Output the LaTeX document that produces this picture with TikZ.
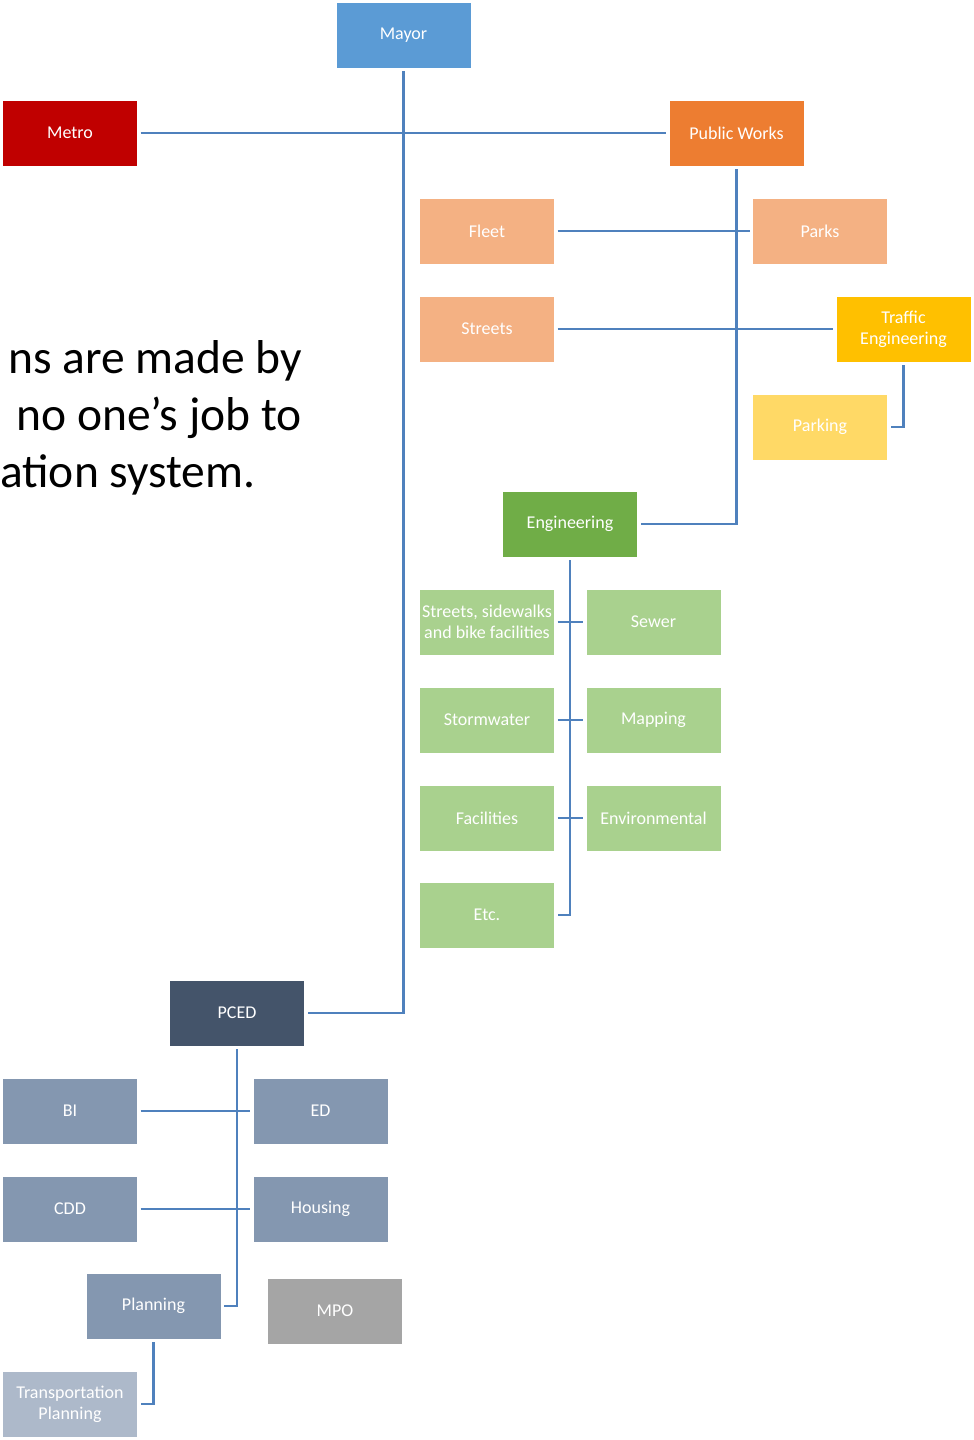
\documentclass[tikz,border=0pt]{standalone}
\usepackage{fontspec}
\setmainfont{Carlito}
\usetikzlibrary{positioning}

\definecolor{mayorblue}{HTML}{5B9BD5}
\definecolor{metrored}{HTML}{C00000}
\definecolor{worksorange}{HTML}{ED7D31}
\definecolor{worksbeige}{HTML}{F4B183}
\definecolor{trafficgold}{HTML}{FFC000}
\definecolor{parkingyellow}{HTML}{FFD966}
\definecolor{enggreen}{HTML}{70AD47}
\definecolor{unitgreen}{HTML}{A9D18E}
\definecolor{pcedslate}{HTML}{44546A}
\definecolor{unitslate}{HTML}{8497B0}
\definecolor{mpogray}{HTML}{A5A5A5}
\definecolor{transslate}{HTML}{ADB9CA}
\definecolor{linkblue}{HTML}{4F81BD}

\begin{document}
\begin{tikzpicture}[x=1pt,y=-1pt]
		\tikzstyle {unit box} = [minimum width=135, minimum height=66, inner sep=0, outer sep=3,
			align=center, text=white, draw=white, line width=0.8, font=\fontsize{18}{21}\selectfont]
		\tikzstyle {link} = [linkblue, line width=2.5]
		\tikzstyle {quote} = [inner sep=0, font=\fontsize{47.5}{57}\selectfont]

		\clip (0,0) rectangle (974,1440);

		% top level
		\node[unit box, fill=mayorblue] (mayor) at (403.5, 35) {Mayor};
		\node[unit box, fill=metrored] (metro) at (70, 133) {Metro};
		\node[unit box, fill=worksorange] (works) at (736.5, 133) {Public Works};

		% public works
		\node[unit box, fill=worksbeige] (fleet) at (487, 231) {Fleet};
		\node[unit box, fill=worksbeige] (parks) at (820, 231) {Parks};
		\node[unit box, fill=worksbeige] (streets) at (487, 329) {Streets};
		\node[unit box, fill=trafficgold] (traffic) at (903.5, 329) {Traffic\\Engineering};
		\node[unit box, fill=parkingyellow] (parking) at (820, 427) {Parking};

		% engineering
		\node[unit box, fill=enggreen] (eng) at (570, 524) {Engineering};
		\node[unit box, fill=unitgreen] (sidewalks) at (487, 622) {Streets, sidewalks\\and bike facilities};
		\node[unit box, fill=unitgreen] (sewer) at (653.5, 622) {Sewer};
		\node[unit box, fill=unitgreen] (storm) at (487, 720) {Stormwater};
		\node[unit box, fill=unitgreen] (mapping) at (653.5, 720) {Mapping};
		\node[unit box, fill=unitgreen] (facilities) at (487, 818) {Facilities};
		\node[unit box, fill=unitgreen] (environ) at (653.5, 818) {Environmental};
		\node[unit box, fill=unitgreen] (etc) at (487, 915) {Etc.};

		% pced
		\node[unit box, fill=pcedslate] (pced) at (237, 1013) {PCED};
		\node[unit box, fill=unitslate] (bi) at (70, 1111) {BI};
		\node[unit box, fill=unitslate] (ed) at (320.5, 1111) {ED};
		\node[unit box, fill=unitslate] (cdd) at (70, 1209) {CDD};
		\node[unit box, fill=unitslate] (housing) at (320.5, 1209) {Housing};
		\node[unit box, fill=unitslate] (planning) at (153.5, 1306) {Planning};
		\node[unit box, fill=mpogray] (mpo) at (335, 1311) {MPO};
		\node[unit box, fill=transslate] (transplan) at (70, 1404) {Transportation\\Planning};

		% links
		\draw[link] (mayor.south) |- (pced.east);
		\draw[link] (metro.east) -- (works.west);
		\draw[link] (works.south) |- (eng.east);
		\draw[link] (fleet.east) -- (parks.west);
		\draw[link] (streets.east) -- (traffic.west);
		\draw[link] (traffic.south) |- (parking.east);
		\draw[link] (eng.south) |- (etc.east);
		\draw[link] (sidewalks.east) -- (sewer.west);
		\draw[link] (storm.east) -- (mapping.west);
		\draw[link] (facilities.east) -- (environ.west);
		\draw[link] (pced.south) |- (planning.east);
		\draw[link] (bi.east) -- (ed.west);
		\draw[link] (cdd.east) -- (housing.west);
		\draw[link] (planning.south) |- (transplan.east);

		% text running in from the left edge
		\node[quote, anchor=base east] (quoteone) at (302, 373) {ns are made by};
		\node[quote, anchor=base east] (quotetwo) at (302, 430) {no one’s job to};
		\node[quote, anchor=base west] (quotethree) at (0, 487) {ation system.};
\end{tikzpicture}
\end{document}
